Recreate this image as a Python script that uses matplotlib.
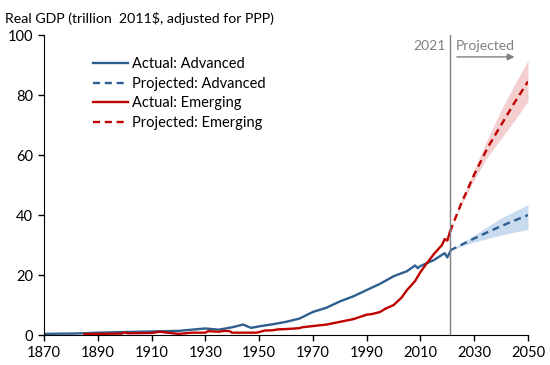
import numpy as np
import matplotlib
matplotlib.use("Agg")
import matplotlib.pyplot as plt

plt.rcParams["font.family"] = ["Lato", "DejaVu Sans"]

blue = "#2f5f8f"
red = "#c00000"
grey = "#808080"

# actual series
adv_years = [1870, 1880, 1885, 1890, 1900, 1910, 1920, 1925, 1930, 1935, 1940, 1944,
             1947, 1950, 1955, 1960, 1965, 1970, 1975, 1980, 1985, 1990, 1995, 2000,
             2005, 2008, 2009, 2010, 2015, 2019, 2020, 2021]
adv_values = [0.4, 0.5, 0.6, 0.8, 1.0, 1.2, 1.4, 1.8, 2.2, 1.8, 2.6, 3.5,
              2.4, 2.9, 3.6, 4.4, 5.5, 7.7, 9.1, 11.2, 12.9, 15.0, 17.1, 19.6,
              21.3, 23.2, 22.3, 23.0, 25.0, 27.3, 25.9, 27.7]

emg_years = [1885, 1890, 1899, 1900, 1901, 1910, 1913, 1918, 1920, 1925, 1930, 1931,
             1935, 1937, 1939, 1940, 1949, 1950, 1952, 1955, 1957, 1960, 1965, 1966,
             1970, 1975, 1980, 1985, 1990, 1992, 1995, 1997, 2000, 2003, 2005, 2008,
             2010, 2012, 2015, 2018, 2019, 2020, 2021]
emg_values = [0.3, 0.4, 0.5, 0.9, 0.6, 0.7, 1.1, 0.6, 0.4, 0.8, 0.8, 1.3,
              1.1, 1.4, 1.3, 0.8, 0.8, 1.0, 1.5, 1.6, 1.9, 2.0, 2.3, 2.6,
              3.0, 3.5, 4.4, 5.3, 6.8, 7.0, 7.7, 8.8, 10.0, 12.5, 15.0, 18.0,
              21.0, 23.5, 27.0, 30.0, 32.0, 31.5, 34.5]

# projections with uncertainty bands
proj_years = [2021, 2025, 2030, 2035, 2040, 2045, 2050]
adv_proj = [28.2, 30.0, 32.2, 34.3, 36.3, 38.2, 40.0]
adv_low = [28.2, 29.5, 31.0, 32.2, 33.3, 34.3, 35.2]
adv_high = [28.2, 30.5, 33.3, 36.2, 39.0, 41.3, 43.5]
emg_proj = [34.5, 43.5, 53.5, 62.5, 70.0, 77.5, 84.5]
emg_low = [34.5, 42.8, 51.8, 59.5, 65.5, 71.5, 78.0]
emg_high = [34.5, 44.2, 55.3, 65.5, 75.0, 83.5, 91.5]

x_ticks = list(range(1870, 2051, 20))
y_ticks = [0, 20, 40, 60, 80, 100]

fig = plt.figure(figsize=(5.5, 3.65), dpi=100)
ax = fig.add_axes([0.08, 0.082, 0.88, 0.822])

ax.fill_between(proj_years, adv_low, adv_high, color="#c9dcef", lw=0)
ax.fill_between(proj_years, emg_low, emg_high, color="#f3cfcf", lw=0)

ax.plot(adv_years, adv_values, color=blue, lw=1.7, label="Actual: Advanced")
ax.plot(proj_years, adv_proj, color=blue, lw=1.7, ls=(0, (3, 2)), label="Projected: Advanced")
ax.plot(emg_years, emg_values, color=red, lw=1.7, label="Actual: Emerging")
ax.plot(proj_years, emg_proj, color=red, lw=1.7, ls=(0, (3, 2)), label="Projected: Emerging")

ax.axvline(2021, color=grey, lw=1)
ax.text(2019.5, 96.5, "2021", color=grey, fontsize=10, ha="right", va="center")
ax.text(2023, 96.5, "Projected", color=grey, fontsize=10, ha="left", va="center")
ax.annotate("", xy=(2046, 92.7), xytext=(2022.5, 92.7),
            arrowprops=dict(arrowstyle="-|>", color=grey, lw=1, mutation_scale=10))

ax.set_xlim(1870, 2050)
ax.set_ylim(0, 100)
ax.set_xticks(x_ticks)
ax.set_yticks(y_ticks)
ax.tick_params(labelsize=10.5, length=4.5, width=1, colors="black")
for s in ["top", "right"]:
    ax.spines[s].set_visible(False)
ax.spines["bottom"].set_bounds(1870, 2050)

ax.legend(loc="upper left", bbox_to_anchor=(0.089, 0.945), frameon=False, fontsize=10.5,
          handlelength=2.4, labelspacing=0.38, handletextpad=0.3, borderaxespad=0)

fig.text(0.009, 0.95, "Real GDP (trillion  2011$, adjusted for PPP)", fontsize=10.2,
         ha="left", va="center")

fig.savefig("out.png", dpi=100)
